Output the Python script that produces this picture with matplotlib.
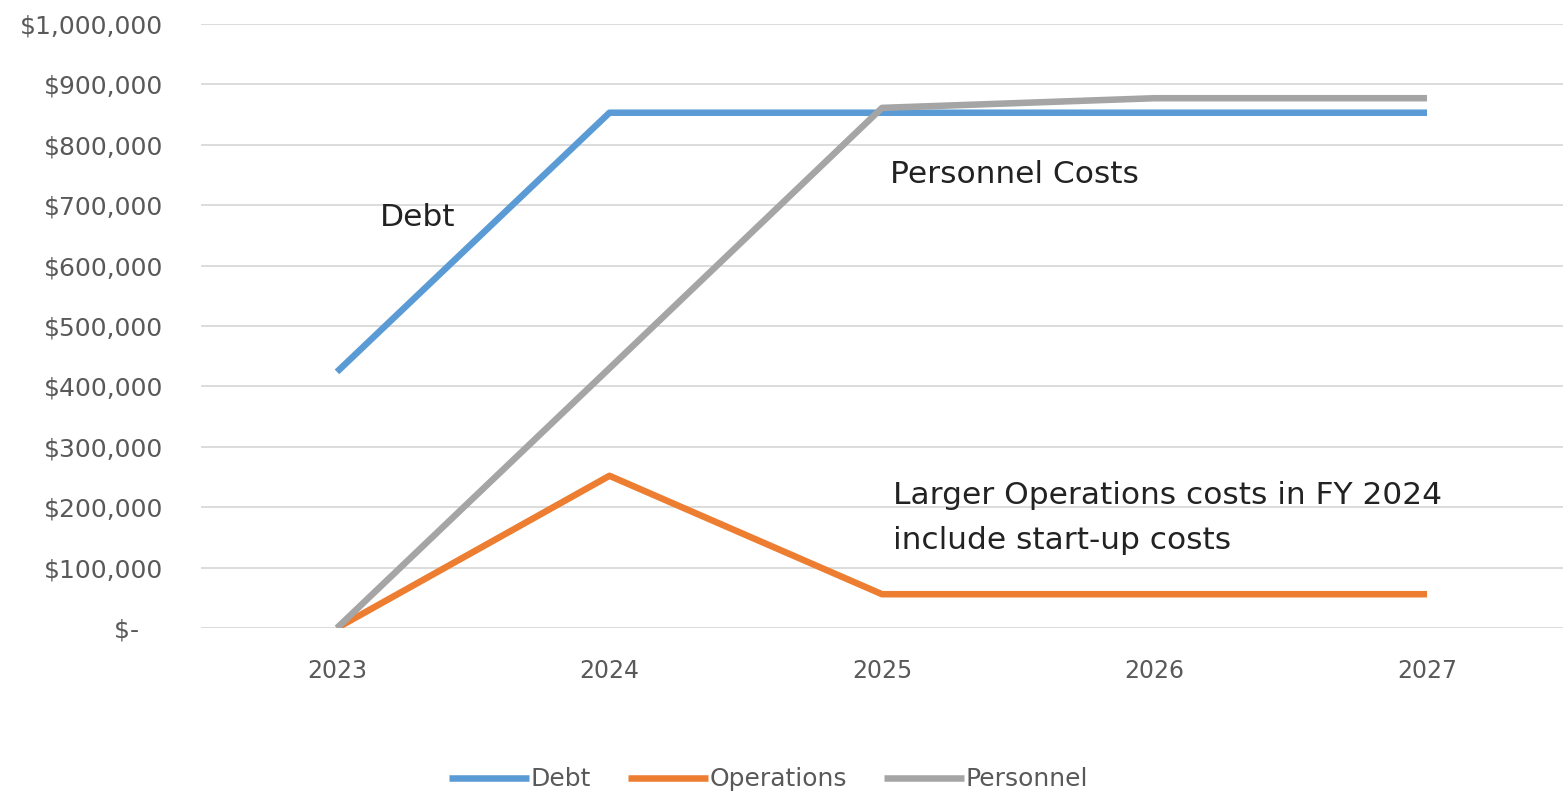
import matplotlib.pyplot as plt
from matplotlib.ticker import FuncFormatter

# data
years = ["2023", "2024", "2025", "2026", "2027"]
debt = [424000, 853000, 853000, 853000, 853000]
operations = [0, 252000, 56000, 56000, 56000]
personnel = [0, 430000, 861000, 877000, 877000]

blue = "#5b9bd5"
orange = "#ed7d31"
gray = "#a5a5a5"
label_col = "#595959"

fig = plt.figure(figsize=(15.68, 7.97), dpi=100)
ax = fig.add_axes([0.128, 0.212, 0.869, 0.758])

x = list(range(len(years)))
ax.plot(x, debt, color=blue, lw=4.7, label="Debt", solid_capstyle="butt")
ax.plot(x, operations, color=orange, lw=4.7, label="Operations", solid_capstyle="butt")
ax.plot(x, personnel, color=gray, lw=4.7, label="Personnel", solid_capstyle="butt")

ax.set_xlim(-0.5, len(years) - 0.5)
ax.set_ylim(0, 1000000)
ax.set_yticks(range(0, 1000001, 100000))
ax.yaxis.set_major_formatter(FuncFormatter(lambda v, p: "$-   " if v == 0 else f"${v:,.0f}"))
ax.set_xticks(x)
ax.set_xticklabels(years)
ax.tick_params(axis="both", length=0, labelcolor=label_col)
ax.tick_params(axis="y", pad=27, labelsize=18)
ax.tick_params(axis="x", pad=22, labelsize=17)
ax.grid(axis="y", color="#d9d9d9", lw=1.3)
ax.set_axisbelow(True)
for s in ax.spines.values():
    s.set_visible(False)

# annotations
ax.text(0.158, 680000, "Debt", fontsize=22.5, color="#222222", va="center")
ax.text(2.028, 750000, "Personnel Costs", fontsize=22.5, color="#222222", va="center")
ax.text(2.039, 182000, "Larger Operations costs in FY 2024\ninclude start-up costs",
        fontsize=22.5, color="#222222", va="center", linespacing=1.72)

fig.legend(loc="center", bbox_to_anchor=(0.49, 0.022), ncol=3, frameon=False,
           handlelength=3.2, handletextpad=0.05, columnspacing=1.5,
           prop={"size": 18}, labelcolor=label_col)

fig.savefig("out.png", dpi=100)
